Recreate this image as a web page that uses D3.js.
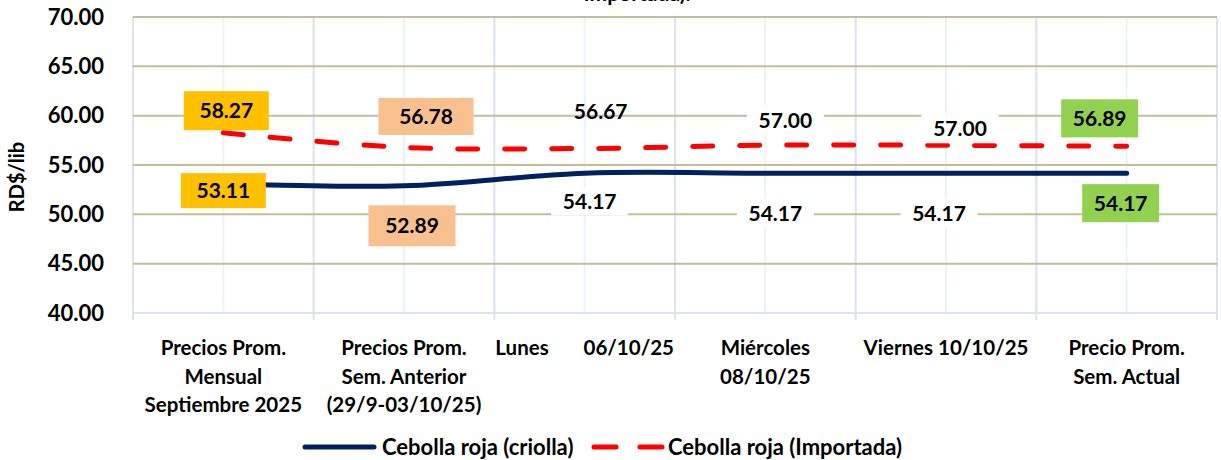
<!DOCTYPE html>
<html>
<head>
<meta charset="utf-8">
<script src="https://cdn.jsdelivr.net/npm/d3@7"></script>
<style>
  body { margin: 0; background: #fff; }
  svg { display: block; font-family: Lato, "Open Sans", sans-serif; font-weight: 700; }
</style>
</head>
<body>
<svg width="1221" height="460"></svg>
<script>
// chart data
var categories = [
  ["Precios Prom.", "Mensual", "Septiembre 2025"],
  ["Precios Prom.", "Sem. Anterior", "(29/9-03/10/25)"],
  ["Lunes\u00a0\u00a0\u00a0\u00a0\u00a0\u00a0\u00a006/10/25"],
  ["Miércoles", "08/10/25"],
  ["Viernes 10/10/25"],
  ["Precio Prom.", "Sem. Actual"]
];
var criolla = [53.11, 52.89, 54.17, 54.17, 54.17, 54.17];
var importada = [58.27, 56.78, 56.67, 57.00, 57.00, 56.89];
var yTicks = [40, 45, 50, 55, 60, 65, 70];
var seriesNames = ["Cebolla roja (criolla)", "Cebolla roja (Importada)"];

// label look (fill colours, offsets from the point, box sizes)
var crFill  = ["#FFC000", "#F8BF8F", "#fff", "#fff", "#fff", "#92D050"];
var impFill = ["#FFC000", "#F8BF8F", null, "#fff", "#fff", "#92D050"];
var crOffset  = [[0, 7], [8, 40], [5, 28], [10, 40], [-7, 40], [-6, 30]];
var impOffset = [[3, -22], [22, -31], [16, -37], [20, -25], [14, -17], [-27, -28]];
var crBox  = [[85, 35], [87, 41], [77, 28], [77, 28], [77, 28], [77, 38]];
var impBox = [[85, 39], [95, 37], [0, 0], [77, 30], [77, 30], [77, 38]];

var svg = d3.select("svg");
var mLeft = 133, mRight = 1217, mTop = 17, mBottom = 313;

var x = d3.scaleBand().domain(d3.range(categories.length)).range([mLeft, mRight]).padding(0);
var y = d3.scaleLinear().domain([40, 70]).range([mBottom, mTop]);
var cx = function(i) { return x(i) + x.bandwidth() / 2; };

// title (cut off at top)
svg.append("text")
    .attr("x", 637).attr("y", 1)
    .attr("text-anchor", "middle")
    .attr("font-size", 21)
    .text("Importada).");

// vertical gridlines: minor at centers, major at boundaries
var grid = svg.append("g");
grid.selectAll("line.minor")
  .data(d3.range(categories.length))
  .enter().append("line")
    .attr("x1", cx).attr("x2", cx)
    .attr("y1", mTop).attr("y2", mBottom)
    .attr("stroke", "#EDF2FA").attr("stroke-width", 2);
grid.selectAll("line.major")
  .data(d3.range(categories.length + 1))
  .enter().append("line")
    .attr("x1", function(i) { return mLeft + i * x.bandwidth(); })
    .attr("x2", function(i) { return mLeft + i * x.bandwidth(); })
    .attr("y1", mTop).attr("y2", mBottom + 7)
    .attr("stroke", "#D9E3F3").attr("stroke-width", 2);

// horizontal gridlines
grid.selectAll("line.h")
  .data(yTicks.filter(function(d) { return d > 40; }))
  .enter().append("line")
    .attr("x1", mLeft).attr("x2", mRight)
    .attr("y1", y).attr("y2", y)
    .attr("stroke", "#C4BD97").attr("stroke-width", 2);

// bottom axis line
svg.append("line")
    .attr("x1", mLeft).attr("x2", mRight)
    .attr("y1", mBottom).attr("y2", mBottom)
    .attr("stroke", "#D9E3F3").attr("stroke-width", 2);

// y axis labels
var yAxis = svg.append("g")
    .attr("transform", "translate(" + (mLeft - 29) + ",0)")
    .call(d3.axisLeft(y).tickValues(yTicks).tickSize(0).tickPadding(0).tickFormat(d3.format(".2f")));
yAxis.select(".domain").remove();
yAxis.selectAll("text")
    .attr("font-family", "Lato, 'Open Sans', sans-serif")
    .attr("font-weight", 700)
    .attr("font-size", 22)
    .attr("fill", "#000");

svg.append("text")
    .attr("transform", "translate(24,177) rotate(-90)")
    .attr("text-anchor", "middle")
    .attr("font-size", 20)
    .text("RD$/lib");

// x category labels
var catG = svg.append("g");
categories.forEach(function(lines, i) {
  var t = catG.append("text")
      .attr("x", cx(i)).attr("y", 355)
      .attr("text-anchor", "middle")
      .attr("font-size", 20.5);
  lines.forEach(function(l, j) {
    t.append("tspan").attr("x", cx(i)).attr("dy", j === 0 ? 0 : 28.5).text(l);
  });
});

// lines
var line = d3.line()
    .x(function(d, i) { return cx(i); })
    .y(function(d) { return y(d); })
    .curve(d3.curveCardinal.tension(0));

svg.append("path")
    .datum(importada)
    .attr("d", line)
    .attr("fill", "none")
    .attr("stroke", "#FF0000")
    .attr("stroke-width", 5)
    .attr("stroke-linecap", "round")
    .attr("stroke-dasharray", "20,27");

svg.append("path")
    .datum(criolla)
    .attr("d", line)
    .attr("fill", "none")
    .attr("stroke", "#002060")
    .attr("stroke-width", 5)
    .attr("stroke-linecap", "round");

// data labels
function drawLabels(values, fills, offsets, boxes) {
  var g = svg.append("g");
  values.forEach(function(v, i) {
    var px = cx(i) + offsets[i][0], py = y(v) + offsets[i][1];
    if (fills[i]) {
      g.append("rect")
          .attr("x", px - boxes[i][0] / 2).attr("y", py - boxes[i][1] / 2)
          .attr("width", boxes[i][0]).attr("height", boxes[i][1])
          .attr("fill", fills[i]);
    }
    g.append("text")
        .attr("x", px).attr("y", py + 7.5)
        .attr("text-anchor", "middle")
        .attr("font-size", 21)
        .text(v.toFixed(2));
  });
}
drawLabels(importada, impFill, impOffset, impBox);
drawLabels(criolla, crFill, crOffset, crBox);

// legend
var legend = svg.append("g");
legend.append("line")
    .attr("x1", 305).attr("x2", 374).attr("y1", 447).attr("y2", 447)
    .attr("stroke", "#002060").attr("stroke-width", 5).attr("stroke-linecap", "round");
legend.append("text").attr("x", 382).attr("y", 455).attr("font-size", 22).text(seriesNames[0]);
legend.append("line")
    .attr("x1", 594).attr("x2", 662).attr("y1", 447).attr("y2", 447)
    .attr("stroke", "#FF0000").attr("stroke-width", 5).attr("stroke-linecap", "round")
    .attr("stroke-dasharray", "22,24");
legend.append("text").attr("x", 668).attr("y", 455).attr("font-size", 22).text(seriesNames[1]);
</script>
</body>
</html>
